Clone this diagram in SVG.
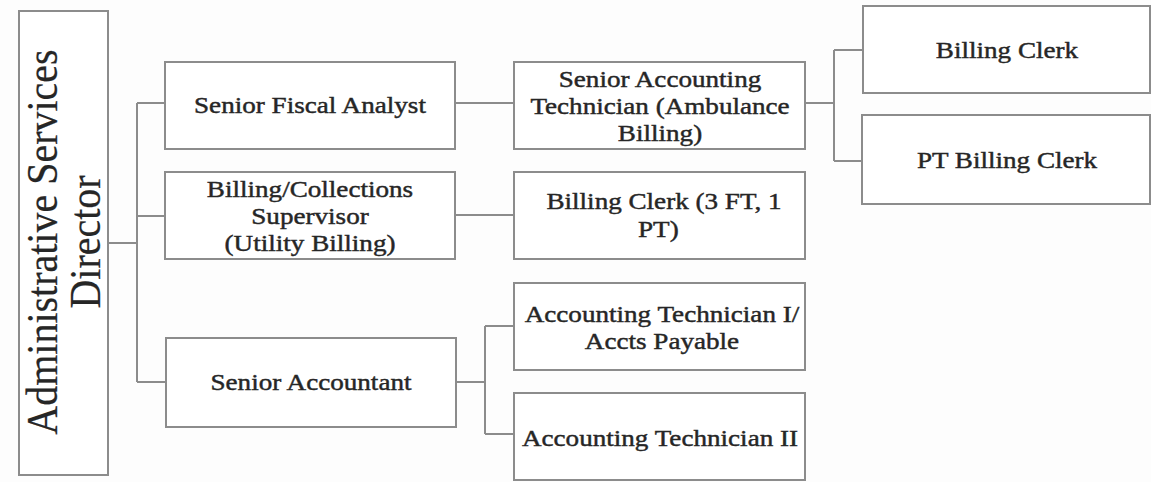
<svg xmlns="http://www.w3.org/2000/svg" width="1151" height="482" viewBox="0 0 1151 482">
  <style>
    .box { fill: #ffffff; stroke: #8c8c8c; stroke-width: 2; }
    .lbl { font-family: "Liberation Serif", "Times New Roman", serif; font-size: 24px; fill: #262626; stroke: #262626; stroke-width: 0.45; text-anchor: middle; }
    .big { font-size: 40px; stroke-width: 0.2; }
    .wire { fill: none; stroke: #8c8c8c; stroke-width: 2; }
  </style>
  <rect width="1151" height="482" fill="#fdfdfd"/>

  <!-- reporting lines -->
  <g id="connectors" class="wire">
    <path d="M108,243 H137 M137,103 V382 M137,103 H165 M137,216 H165 M137,382 H166"/>
    <path d="M455,103 H514"/>
    <path d="M455,215 H514"/>
    <path d="M805,103 H834 M834,50 V161 M834,50 H863 M834,161 H862"/>
    <path d="M456,382 H485 M485,326 V434 M485,326 H514 M485,434 H514"/>
  </g>

  <g id="director">
    <rect class="box" x="19" y="11" width="89" height="464"/>
    <text class="lbl big" transform="translate(63.5,242) scale(1.13,1) rotate(-90)"><tspan x="0" y="-6">Administrative Services</tspan><tspan x="0" y="32">Director</tspan></text>
  </g>

  <g id="senior-fiscal-analyst">
    <rect class="box" x="165" y="62" width="290" height="87"/>
    <text class="lbl" transform="matrix(1.13 0 0 1 310 0)" x="0" y="113">Senior Fiscal Analyst</text>
  </g>

  <g id="billing-collections-supervisor">
    <rect class="box" x="165" y="172" width="290" height="87"/>
    <text class="lbl" transform="matrix(1.13 0 0 1 310 0)"><tspan x="0" y="197">Billing/Collections</tspan><tspan x="0" y="224">Supervisor</tspan><tspan x="0" y="251">(Utility Billing)</tspan></text>
  </g>

  <g id="senior-accountant">
    <rect class="box" x="166" y="338" width="290" height="89"/>
    <text class="lbl" transform="matrix(1.13 0 0 1 311 0)" x="0" y="390">Senior Accountant</text>
  </g>

  <g id="senior-accounting-technician">
    <rect class="box" x="514" y="62" width="291" height="87"/>
    <text class="lbl" transform="matrix(1.13 0 0 1 660 0)"><tspan x="0" y="87">Senior Accounting</tspan><tspan x="0" y="114">Technician (Ambulance</tspan><tspan x="0" y="141">Billing)</tspan></text>
  </g>

  <g id="billing-clerk-ft-pt">
    <rect class="box" x="514" y="172" width="291" height="87"/>
    <text class="lbl" transform="matrix(1.13 0 0 1 664 0)"><tspan x="0" y="209">Billing Clerk (3 FT, 1</tspan><tspan x="-5" y="237">PT)</tspan></text>
  </g>

  <g id="accounting-technician-1">
    <rect class="box" x="514" y="283" width="291" height="87"/>
    <text class="lbl" transform="matrix(1.13 0 0 1 662 0)"><tspan x="0" y="322">Accounting Technician I/</tspan><tspan x="0" y="349">Accts Payable</tspan></text>
  </g>

  <g id="accounting-technician-2">
    <rect class="box" x="514" y="393" width="291" height="87"/>
    <text class="lbl" transform="matrix(1.13 0 0 1 660 0)" x="0" y="446">Accounting Technician II</text>
  </g>

  <g id="billing-clerk">
    <rect class="box" x="863" y="6" width="287" height="87"/>
    <text class="lbl" transform="matrix(1.13 0 0 1 1007 0)" x="0" y="58">Billing Clerk</text>
  </g>

  <g id="pt-billing-clerk">
    <rect class="box" x="862" y="115" width="288" height="89"/>
    <text class="lbl" transform="matrix(1.13 0 0 1 1007 0)" x="0" y="168">PT Billing Clerk</text>
  </g>
</svg>
